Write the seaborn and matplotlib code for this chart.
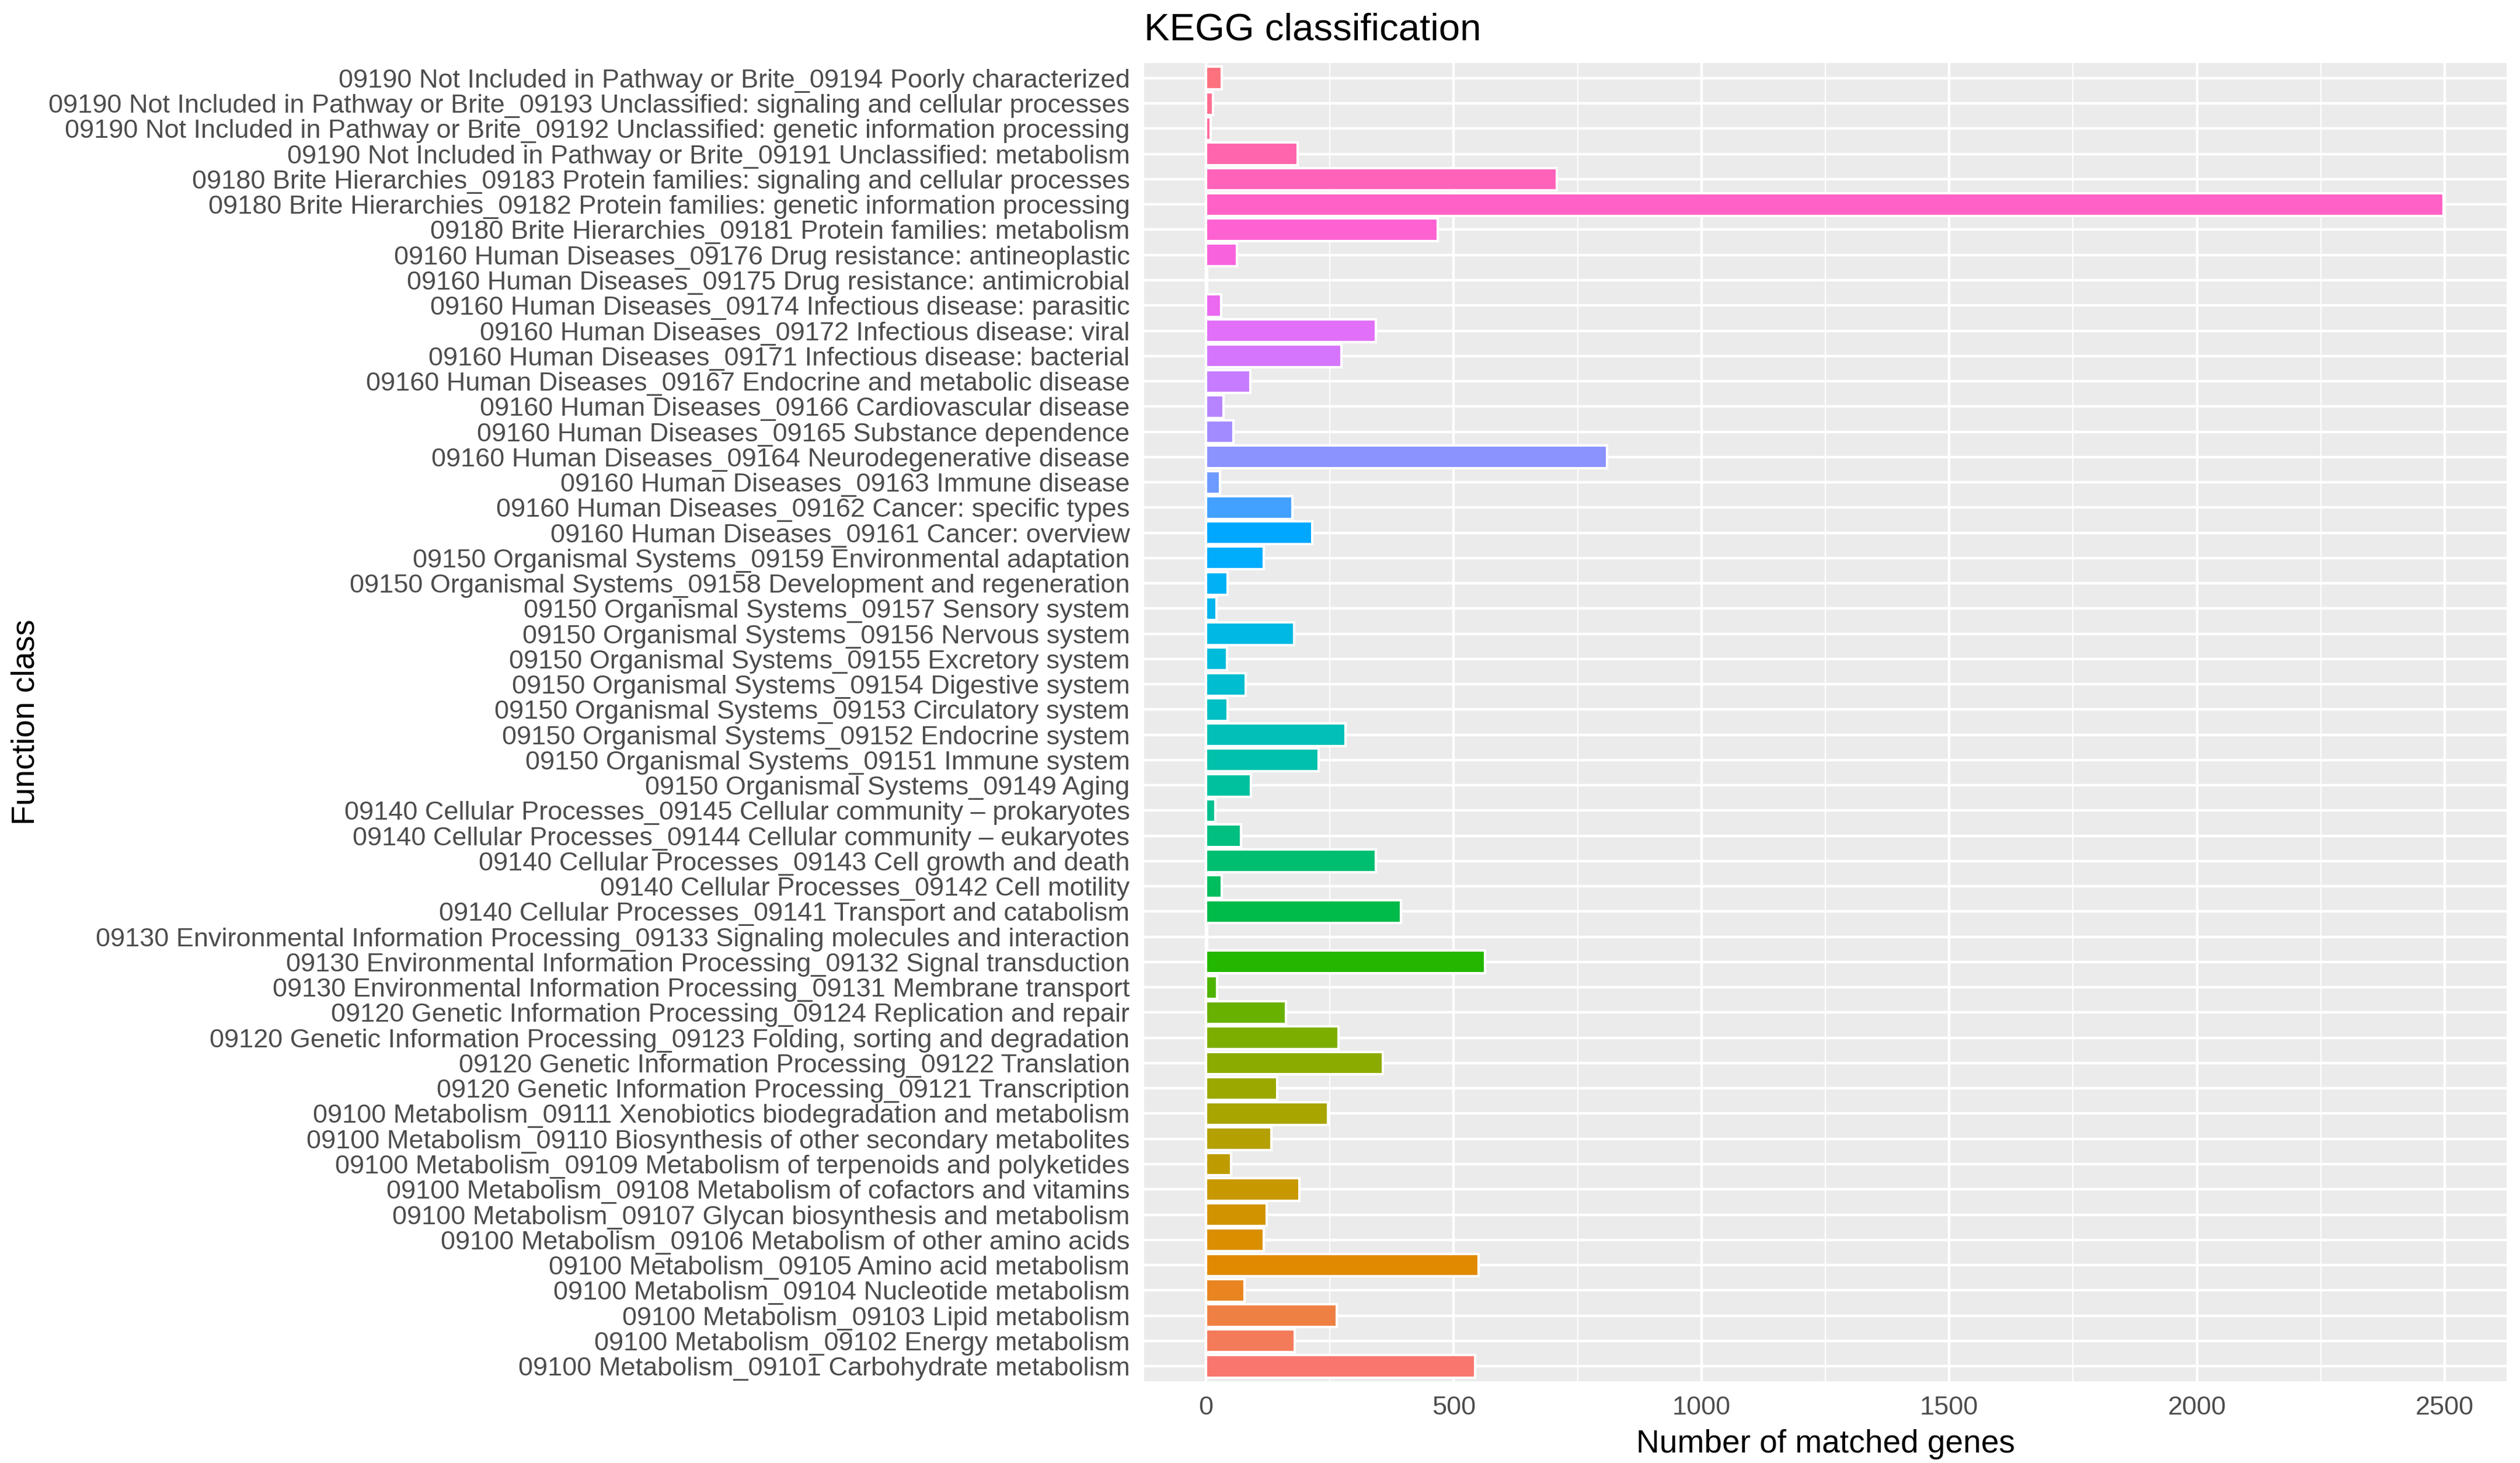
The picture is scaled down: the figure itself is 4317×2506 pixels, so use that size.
import math
import numpy as np
import pandas as pd
import matplotlib
matplotlib.use("Agg")
import matplotlib.pyplot as plt
from matplotlib.ticker import MultipleLocator
import seaborn as sns

# ---------------- data (top to bottom as displayed) ----------------
function_class = [
    "09190 Not Included in Pathway or Brite_09194 Poorly characterized",
    "09190 Not Included in Pathway or Brite_09193 Unclassified: signaling and cellular processes",
    "09190 Not Included in Pathway or Brite_09192 Unclassified: genetic information processing",
    "09190 Not Included in Pathway or Brite_09191 Unclassified: metabolism",
    "09180 Brite Hierarchies_09183 Protein families: signaling and cellular processes",
    "09180 Brite Hierarchies_09182 Protein families: genetic information processing",
    "09180 Brite Hierarchies_09181 Protein families: metabolism",
    "09160 Human Diseases_09176 Drug resistance: antineoplastic",
    "09160 Human Diseases_09175 Drug resistance: antimicrobial",
    "09160 Human Diseases_09174 Infectious disease: parasitic",
    "09160 Human Diseases_09172 Infectious disease: viral",
    "09160 Human Diseases_09171 Infectious disease: bacterial",
    "09160 Human Diseases_09167 Endocrine and metabolic disease",
    "09160 Human Diseases_09166 Cardiovascular disease",
    "09160 Human Diseases_09165 Substance dependence",
    "09160 Human Diseases_09164 Neurodegenerative disease",
    "09160 Human Diseases_09163 Immune disease",
    "09160 Human Diseases_09162 Cancer: specific types",
    "09160 Human Diseases_09161 Cancer: overview",
    "09150 Organismal Systems_09159 Environmental adaptation",
    "09150 Organismal Systems_09158 Development and regeneration",
    "09150 Organismal Systems_09157 Sensory system",
    "09150 Organismal Systems_09156 Nervous system",
    "09150 Organismal Systems_09155 Excretory system",
    "09150 Organismal Systems_09154 Digestive system",
    "09150 Organismal Systems_09153 Circulatory system",
    "09150 Organismal Systems_09152 Endocrine system",
    "09150 Organismal Systems_09151 Immune system",
    "09150 Organismal Systems_09149 Aging",
    "09140 Cellular Processes_09145 Cellular community \u2013 prokaryotes",
    "09140 Cellular Processes_09144 Cellular community \u2013 eukaryotes",
    "09140 Cellular Processes_09143 Cell growth and death",
    "09140 Cellular Processes_09142 Cell motility",
    "09140 Cellular Processes_09141 Transport and catabolism",
    "09130 Environmental Information Processing_09133 Signaling molecules and interaction",
    "09130 Environmental Information Processing_09132 Signal transduction",
    "09130 Environmental Information Processing_09131 Membrane transport",
    "09120 Genetic Information Processing_09124 Replication and repair",
    "09120 Genetic Information Processing_09123 Folding, sorting and degradation",
    "09120 Genetic Information Processing_09122 Translation",
    "09120 Genetic Information Processing_09121 Transcription",
    "09100 Metabolism_09111 Xenobiotics biodegradation and metabolism",
    "09100 Metabolism_09110 Biosynthesis of other secondary metabolites",
    "09100 Metabolism_09109 Metabolism of terpenoids and polyketides",
    "09100 Metabolism_09108 Metabolism of cofactors and vitamins",
    "09100 Metabolism_09107 Glycan biosynthesis and metabolism",
    "09100 Metabolism_09106 Metabolism of other amino acids",
    "09100 Metabolism_09105 Amino acid metabolism",
    "09100 Metabolism_09104 Nucleotide metabolism",
    "09100 Metabolism_09103 Lipid metabolism",
    "09100 Metabolism_09102 Energy metabolism",
    "09100 Metabolism_09101 Carbohydrate metabolism",
]
gene_counts = [
    32, 14, 9, 185, 708, 2498, 468,
    62, 2, 31, 343, 273, 89, 35, 55, 809, 28, 174, 214,
    117, 44, 21, 178, 42, 80, 44, 281, 227, 91,
    19, 70, 343, 32, 394,
    2, 563, 22,
    161, 267, 357, 144,
    246, 132, 50, 188, 123, 116, 550, 78, 264, 179, 543,
]
x_ticks = [0, 500, 1000, 1500, 2000, 2500]
title_text = "KEGG classification"
x_label = "Number of matched genes"
y_label = "Function class"

df = pd.DataFrame({"Function class": function_class, "Number": gene_counts})


# ---------------- ggplot-like hue palette ----------------
def hcl_to_hex(h, c, l):
    Xn, Yn, Zn = 95.047, 100.000, 108.883
    hr = math.radians(h)
    U = c * math.cos(hr)
    V = c * math.sin(hr)
    if l > 8:
        Y = Yn * ((l + 16) / 116) ** 3
    else:
        Y = Yn * l / 903.3
    t = Xn + Yn + Zn
    x = Xn / t
    y = Yn / t
    uN = 2 * x / (6 * y - x + 1.5)
    vN = 4.5 * y / (6 * y - x + 1.5)
    u = U / (13 * l) + uN
    v = V / (13 * l) + vN
    X = 9.0 * Y * u / (4 * v)
    Z = -X / 3 - 5 * Y + 3 * Y / v
    X, Y, Z = X / 100, Y / 100, Z / 100
    r = 3.240479 * X - 1.537150 * Y - 0.498535 * Z
    g = -0.969256 * X + 1.875992 * Y + 0.041556 * Z
    b = 0.055648 * X - 0.204043 * Y + 1.057311 * Z

    def gam(val):
        val = 12.92 * val if val <= 0.0031308 else 1.055 * val ** (1 / 2.4) - 0.055
        return min(max(val, 0.0), 1.0)

    return "#%02X%02X%02X" % tuple(int(round(gam(q) * 255)) for q in (r, g, b))


n = len(function_class)
bottom_up = function_class[::-1]
palette = {lab: hcl_to_hex(15 + 360 * i / n, 100, 65) for i, lab in enumerate(bottom_up)}

# ---------------- figure ----------------
sns.set_theme(style="darkgrid")
plt.rcParams["font.family"] = ["Liberation Sans", "DejaVu Sans"]

DPI = 300
fig = plt.figure(figsize=(4317 / DPI, 2506 / DPI), dpi=DPI)
ax = fig.add_axes([1960 / 4317, 1 - 2366 / 2506, (4294 - 1960) / 4317, (2366 - 108) / 2506])
ax.set_facecolor("#EBEBEB")

sns.barplot(data=df, y="Function class", x="Number", hue="Function class",
            order=function_class, palette=palette, orient="h", width=0.9,
            legend=False, saturation=1, ax=ax, errorbar=None, zorder=3)

ax.set_xlim(-0.05 * 2500, 2625)
ax.set_ylim(n - 1 + 0.6, -0.6)
ax.set_xticks(x_ticks)
ax.set_xticklabels([str(t) for t in x_ticks])
ax.xaxis.set_minor_locator(MultipleLocator(250))
ax.grid(False)
ax.grid(which="major", axis="both", color="white", linewidth=1.07, zorder=0)
ax.grid(which="minor", axis="x", color="white", linewidth=0.53, zorder=0)
ax.set_axisbelow(True)
for s in ax.spines.values():
    s.set_visible(False)

ax.tick_params(axis="both", which="major", length=3.3, width=1.07, color="#333333",
               labelcolor="#4D4D4D", labelsize=10.85, pad=2.6)
ax.tick_params(axis="both", which="minor", length=0)

ax.set_xlabel(x_label, fontsize=13.2, color="black", labelpad=4)
ax.set_ylabel(y_label, fontsize=13.2, color="black", labelpad=3)
ax.set_title(title_text, fontsize=15.7, color="black", loc="left", pad=9.5)

fig.savefig("out.png", dpi=DPI)
